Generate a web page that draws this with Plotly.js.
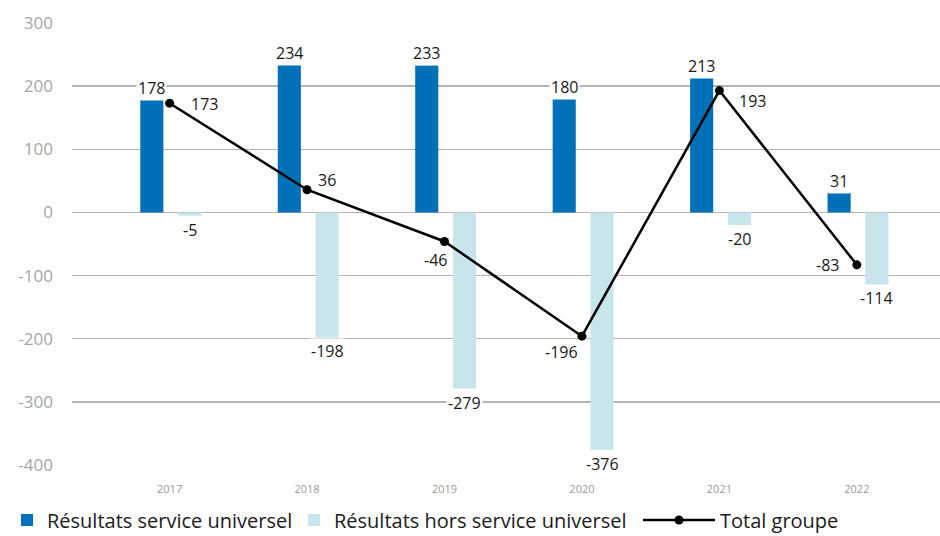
<!DOCTYPE html>
<html>
<head>
<meta charset="utf-8">
<script src="https://cdn.plot.ly/plotly-3.0.1.min.js"></script>
<style>
  html, body { margin: 0; padding: 0; background: #fff; }
  #chart { width: 940px; height: 536px; }
</style>
</head>
<body>
<div id="chart"></div>
<script>
// Résultats par année (en millions)
const years = ['2017', '2018', '2019', '2020', '2021', '2022'];
const serviceUniversel = [178, 234, 233, 180, 213, 31];
const horsServiceUniversel = [-5, -198, -279, -376, -20, -114];
const totalGroupe = [173, 36, -46, -196, 193, -83];
const yTickValues = [-400, -300, -200, -100, 0, 100, 200, 300];
const yTickLabels = ['-400', '-300', '-200', '-100', '0', '100', '200', '300'];

const seriesNames = ['Résultats service universel', 'Résultats hors service universel', 'Total groupe'];

const BLUE = '#0070b9';
const LIGHT = '#c9e5ec';
const FONT = '"Open Sans", Lato, sans-serif';

// bar geometry in category units
const BAR_W = 0.168;
const OFF_A = -0.213;
const OFF_B = 0.062;

const traces = [
  {
    type: 'bar', name: seriesNames[0], x: years, y: serviceUniversel,
    width: BAR_W, offset: OFF_A, marker: { color: BLUE },
    legend: 'legend', hoverinfo: 'skip'
  },
  {
    type: 'bar', name: seriesNames[1], x: years, y: horsServiceUniversel,
    width: BAR_W, offset: OFF_B, marker: { color: LIGHT },
    legend: 'legend2', hoverinfo: 'skip'
  },
  {
    type: 'scatter', mode: 'lines+markers', name: seriesNames[2], x: years, y: totalGroupe,
    line: { color: '#000', width: 2.5 }, marker: { color: '#000', size: 9 },
    legend: 'legend3', hoverinfo: 'skip', cliponaxis: false
  }
];

const fmt = v => String(v);
const labelFont = { family: FONT, size: 16, color: '#1a1a1a' };
const annotations = [];

// value labels of the bars (white background breaks the gridlines)
function barLabels(values, offset) {
  values.forEach((v, i) => {
    annotations.push({
      x: i + offset + BAR_W / 2, y: v, xref: 'x', yref: 'y', text: fmt(v),
      showarrow: false, yanchor: 'middle', yshift: v >= 0 ? 12 : -14,
      bgcolor: '#fff', borderpad: 1, font: labelFont
    });
  });
}
barLabels(serviceUniversel, OFF_A);
barLabels(horsServiceUniversel, OFF_B);

// placement of the total labels around each point
const totalLabelPlacement = [
  { xanchor: 'left', xshift: 19, yshift: -1 },
  { xanchor: 'left', xshift: 9, yshift: 10 },
  { xanchor: 'center', xshift: -9, yshift: -19 },
  { xanchor: 'right', xshift: -2, yshift: -16 },
  { xanchor: 'left', xshift: 18, yshift: -10 },
  { xanchor: 'right', xshift: -16, yshift: 0 }
];
totalGroupe.forEach((v, i) => {
  const p = totalLabelPlacement[i];
  annotations.push({
    x: i, y: v, xref: 'x', yref: 'y', text: fmt(v), showarrow: false,
    xanchor: p.xanchor, yanchor: 'middle', xshift: p.xshift, yshift: p.yshift,
    font: labelFont
  });
});

const legendBase = {
  orientation: 'h', xref: 'container', yref: 'container',
  xanchor: 'left', yanchor: 'middle', y: 16 / 536,
  bgcolor: 'rgba(0,0,0,0)', borderwidth: 0,
  font: { family: FONT, size: 20, color: '#1a1a1a' },
  itemclick: false, itemdoubleclick: false
};

const layout = {
  width: 940, height: 536,
  margin: { l: 72, r: 0, t: 23, b: 71 },
  paper_bgcolor: '#fff', plot_bgcolor: '#fff',
  barmode: 'overlay',
  font: { family: FONT, color: '#1a1a1a' },
  xaxis: {
    type: 'category', range: [-0.71, 5.605], showgrid: false, zeroline: false,
    showline: false, ticks: '', ticklabelstandoff: 16,
    tickfont: { family: FONT, size: 11, color: '#9a9a9a' }, fixedrange: true
  },
  yaxis: {
    range: [-400, 300], tickvals: yTickValues, ticktext: yTickLabels,
    showgrid: true, gridcolor: '#b4b4b4', gridwidth: 1.3,
    zeroline: true, zerolinecolor: '#b4b4b4', zerolinewidth: 1.3,
    showline: false, ticks: '', ticklabelstandoff: 18,
    tickfont: { family: FONT, size: 17, color: '#a6a6a6' }, fixedrange: true
  },
  showlegend: true,
  legend: Object.assign({}, legendBase, { x: 7 / 940 }),
  legend2: Object.assign({}, legendBase, { x: 294 / 940 }),
  legend3: Object.assign({}, legendBase, { x: 638 / 940, itemwidth: 72 }),
  annotations: annotations
};

Plotly.newPlot('chart', traces, layout, { displayModeBar: false, staticPlot: true });
</script>
</body>
</html>
